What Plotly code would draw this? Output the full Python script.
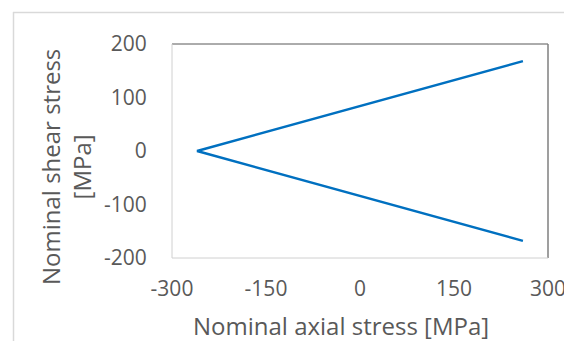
import plotly.graph_objects as go

# Data
axial_stress = [260, -260, 260]     # MPa
shear_stress = [-168, 0, 168]       # MPa
x_ticks = [-300, -150, 0, 150, 300]
x_tick_labels = ["-300", "-150", "0", "150", "300"]
y_ticks = [-200, -100, 0, 100, 200]
y_tick_labels = ["-200", "-100", "0", "100", "200"]
x_title = "Nominal axial stress [MPa]"
y_title = "Nominal shear stress<br>[MPa]"

W, H = 564, 341
L, R, T, B = 172, 548, 44, 258

FONT = "'Open Sans', sans-serif"
GRAY = "#595959"

def px(x):
    return (x - L) / (R - L)

def py(y):
    return (B - y) / (B - T)

fig = go.Figure()
fig.add_trace(go.Scatter(
    x=axial_stress, y=shear_stress, mode="lines",
    line=dict(color="#0070C0", width=2.5), showlegend=False,
    hoverinfo="skip"))

fig.update_layout(
    width=W, height=H, autosize=False,
    margin=dict(l=L, r=W - R, t=T, b=H - B, autoexpand=False),
    paper_bgcolor="white", plot_bgcolor="white",
    font=dict(family=FONT, size=21, color=GRAY),
    xaxis=dict(range=[-300, 300], tickvals=x_ticks, ticktext=x_tick_labels,
               showgrid=False, zeroline=False, showline=False, ticks="outside",
               ticklen=12, tickcolor="rgba(0,0,0,0)",
               ticklabeloverflow="allow", automargin=False,
               tickfont=dict(size=21, color=GRAY, family=FONT)),
    yaxis=dict(range=[-200, 200], tickvals=y_ticks, ticktext=y_tick_labels,
               showgrid=False, zeroline=False, showline=False, ticks="outside",
               ticklen=20, tickcolor="rgba(0,0,0,0)",
               ticklabeloverflow="allow", automargin=False,
               tickfont=dict(size=21, color=GRAY, family=FONT)),
    shapes=[
        # outer frame
        dict(type="line", xref="paper", yref="paper", x0=px(13), x1=px(600),
             y0=py(12.5), y1=py(12.5), line=dict(color="#d9d9d9", width=1.5)),
        dict(type="line", xref="paper", yref="paper", x0=px(13.5), x1=px(13.5),
             y0=py(12), y1=py(360), line=dict(color="#d9d9d9", width=1.5)),
        # plot area borders
        dict(type="line", xref="paper", yref="paper", x0=0, x1=1, y0=1, y1=1,
             line=dict(color="#595959", width=1)),
        dict(type="line", xref="paper", yref="paper", x0=1, x1=1, y0=0, y1=1,
             line=dict(color="#7f7f7f", width=1.5)),
        dict(type="line", xref="paper", yref="paper", x0=0, x1=0, y0=0, y1=1,
             line=dict(color="#d0d0d0", width=1)),
        dict(type="line", xref="paper", yref="paper", x0=0, x1=1, y0=0, y1=0,
             line=dict(color="#d0d0d0", width=1)),
    ],
    annotations=[
        dict(text=x_title, xref="paper", yref="paper", x=px(341), y=py(325),
             xanchor="center", yanchor="middle", showarrow=False,
             font=dict(size=24, color=GRAY, family=FONT)),
        dict(text=y_title, xref="paper", yref="paper", x=px(66), y=py(167),
             xanchor="center", yanchor="middle", showarrow=False,
             textangle=-90, align="center",
             font=dict(size=24, color=GRAY, family=FONT)),
    ],
)

fig.write_html("out.html")
